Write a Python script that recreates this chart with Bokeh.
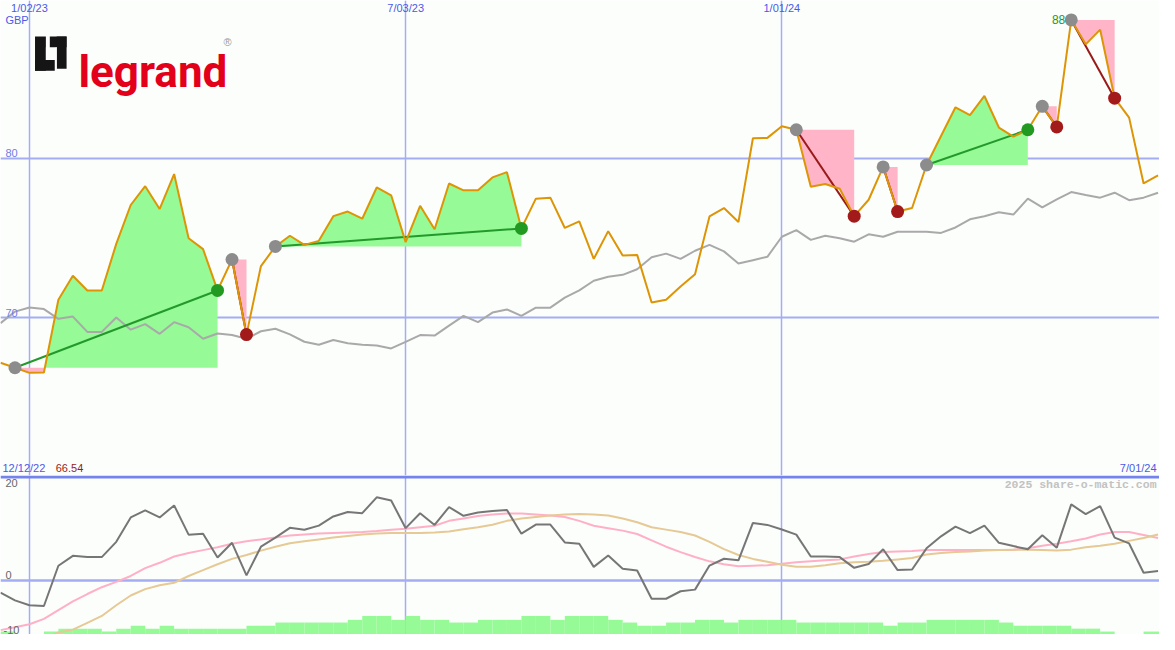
import numpy as np
import pandas as pd
from bokeh.plotting import figure
from bokeh.models import Range1d, FixedTicker, Span
from bokeh.layouts import column
from bokeh.embed import file_html
from bokeh.resources import INLINE
from bokeh.core.properties import value

# ---------------- data ----------------
first_week = "2022-12-19"
last_week = "2024-07-01"

price = [67.17, 66.86, 66.54, 66.56, 71.13, 72.63, 71.71, 71.71, 74.63, 77.07,
         78.25, 76.82, 79.01, 74.98, 74.30, 71.71, 73.65, 68.94, 73.24, 74.47,
         75.14, 74.57, 74.82, 76.37, 76.66, 76.21, 78.17, 77.68, 74.74, 77.02,
         75.55, 78.42, 77.99, 77.99, 78.80, 79.13, 75.60, 77.47, 77.53, 75.63,
         76.04, 73.69, 75.43, 73.90, 73.94, 70.95, 71.13, 71.95, 72.73, 76.35,
         76.88, 76.00, 81.26, 81.28, 82.01, 81.79, 78.21, 78.39, 78.09, 76.37,
         77.40, 79.46, 76.66, 76.88, 79.58, 81.40, 83.20, 82.71, 83.91, 81.93,
         81.36, 81.79, 83.26, 81.97, 88.68, 87.15, 88.07, 83.77, 82.55, 78.42,
         78.93]

index_line = [69.66, 70.38, 70.64, 70.54, 69.93, 70.07, 69.11, 69.11, 70.01, 69.25,
              69.60, 68.99, 69.72, 69.40, 68.68, 69.01, 68.91, 68.68, 69.15, 69.31,
              68.95, 68.49, 68.30, 68.60, 68.40, 68.30, 68.25, 68.07, 68.48, 68.91,
              68.88, 69.50, 70.11, 69.72, 70.32, 70.52, 70.11, 70.63, 70.63, 71.26,
              71.71, 72.32, 72.57, 72.69, 73.04, 73.79, 74.02, 73.69, 74.20, 74.57,
              74.16, 73.40, 73.61, 73.82, 75.08, 75.49, 74.88, 75.14, 74.98, 74.77,
              75.23, 75.08, 75.39, 75.39, 75.39, 75.32, 75.66, 76.17, 76.37, 76.61,
              76.47, 77.47, 76.92, 77.42, 77.88, 77.70, 77.53, 77.84, 77.37, 77.53,
              77.84]

momentum = [-2.4, -4.0, -5.0, -5.15, 3.1, 5.13, 4.87, 4.87, 8.0, 13.0,
            14.47, 13.0, 15.47, 9.47, 9.67, 4.8, 7.8, 1.13, 7.0, 8.87,
            10.87, 10.47, 11.33, 13.2, 14.13, 13.87, 17.13, 16.47, 10.8, 13.87,
            11.47, 15.13, 13.33, 14.0, 14.33, 14.53, 9.67, 11.53, 11.53, 7.87,
            7.6, 2.87, 5.2, 2.47, 2.13, -3.67, -3.67, -2.13, -1.8, 3.13,
            4.53, 4.2, 11.87, 11.47, 10.53, 9.47, 5.0, 5.0, 4.87, 2.67,
            3.47, 6.47, 2.2, 2.33, 6.67, 9.13, 11.13, 9.8, 11.33, 7.8,
            7.13, 6.47, 9.33, 6.8, 15.67, 13.67, 15.33, 8.87, 7.67, 1.67,
            2.0]

avg_fast = [-10.1, -9.5, -8.9, -7.8, -6.0, -4.2, -2.7, -1.3, -0.2, 1.0,
            2.6, 3.7, 5.0, 5.7, 6.3, 6.9, 7.6, 8.1, 8.5, 8.9,
            9.3, 9.5, 9.7, 9.8, 9.9, 10.0, 10.2, 10.5, 10.7, 11.0,
            11.3, 12.3, 12.8, 13.3, 13.6, 13.8, 13.8, 13.6, 13.4, 13.1,
            12.3, 11.3, 10.8, 10.3, 9.6, 8.3, 7.0, 5.9, 4.9, 4.0,
            3.4, 3.0, 3.1, 3.2, 3.5, 3.8, 4.0, 4.2, 4.4, 5.0,
            5.5, 5.9, 6.0, 6.1, 6.3, 6.3, 6.3, 6.3, 6.3, 6.3,
            6.4, 6.7, 7.2, 7.6, 8.1, 8.7, 9.5, 10.0, 10.0, 9.4,
            8.8]

avg_slow = [np.nan, np.nan, np.nan, -11.8, -10.6, -10.0, -8.6, -7.2, -5.0, -3.0,
            -1.7, -0.9, -0.4, 1.0, 2.2, 3.4, 4.5, 5.3, 6.2, 7.0,
            7.7, 8.1, 8.5, 8.9, 9.2, 9.5, 9.7, 9.8, 9.8, 9.8,
            9.9, 10.1, 10.6, 11.0, 11.5, 12.3, 12.8, 13.1, 13.4, 13.6,
            13.7, 13.6, 13.4, 12.8, 12.0, 11.0, 10.5, 10.0, 9.3, 8.0,
            6.5, 5.3, 4.5, 3.9, 3.3, 2.9, 2.9, 3.2, 3.6, 3.8,
            3.9, 4.1, 4.4, 4.7, 5.4, 5.7, 5.9, 6.0, 6.2, 6.3,
            6.4, 6.4, 6.3, 6.2, 6.4, 6.9, 7.2, 7.6, 8.2, 8.8,
            9.5]

volume_bar = [0.6, 0.0, 0.0, 0.6, 1.2, 1.2, 1.2, 0.6, 1.2, 1.8,
              1.2, 1.8, 1.2, 1.2, 1.2, 1.2, 1.2, 1.8, 1.8, 2.45,
              2.45, 2.45, 2.45, 2.45, 3.0, 3.8, 3.8, 3.0, 3.8, 3.0,
              3.0, 2.45, 2.45, 3.0, 3.0, 3.0, 3.8, 3.8, 3.0, 3.8,
              3.8, 3.8, 3.0, 2.45, 1.8, 1.8, 2.45, 2.45, 3.0, 3.0,
              2.45, 3.0, 3.0, 3.0, 3.0, 2.45, 2.45, 2.45, 2.45, 2.45,
              2.45, 1.8, 2.45, 2.45, 3.0, 3.0, 3.0, 3.0, 3.0, 2.45,
              1.8, 1.8, 1.8, 1.8, 1.2, 1.2, 0.6, 0.0, 0.0, 0.6,
              0.6]

# trend segments (week index of start and end)
seg_start = [1, 16, 19, 55, 61, 64, 72, 74]
seg_end = [15, 17, 36, 59, 62, 71, 73, 77]

date_ticks = ["2023-01-02", "2023-07-03", "2024-01-01"]
date_tick_labels = ["1/02/23", "7/03/23", "1/01/24"]
price_ticks = [70, 80]
price_tick_labels = ["70", "80"]
mom_grid = [0]
mom_ticks = [20, 0, -10]
mom_tick_labels = ["20", "0", "-10"]
currency = "GBP"
first_label = "12/12/22"
low_label = "66.54"
last_label = "7/01/24"
watermark = "2025 share-o-matic.com"

# ---------------- helpers ----------------
def to_ms(ts):
    return pd.DatetimeIndex(ts).values.astype("datetime64[ms]").astype("int64").astype(float)

dates = pd.date_range(first_week, periods=len(price), freq="7D")
xm = to_ms(dates)
week_ms = 7 * 86400000.0
price_a = np.array(price)

BG = "#fcfefc"
GRID = "#a4adf4"
BLUE_TXT = "#4a5ae8"
GREEN_FILL = "#96fa96"
PINK_FILL = "#ffb4c8"
FONT = value("Liberation Sans")

x_lo = xm[0]
x_hi = to_ms([last_week])[0] + 0.1 * week_ms
xr = Range1d(x_lo, x_hi)

W = 1159
H_TOP = 475
H_BOT = 159

# ---------------- top panel ----------------
p = figure(width=W, height=H_TOP, x_range=xr, y_range=Range1d(60.1, 89.9),
           x_axis_type="datetime", output_backend="svg", toolbar_location=None,
           min_border=0, background_fill_color=BG, border_fill_color=BG,
           outline_line_color=None)
p.extra_x_ranges = {"px": Range1d(0, 1175)}
p.extra_y_ranges = {"px": Range1d(487, 0)}
p.xaxis.visible = False
p.yaxis.visible = False
p.xgrid.ticker = FixedTicker(ticks=list(to_ms(date_ticks)))
p.xgrid.grid_line_color = GRID
p.xgrid.grid_line_width = 1.5
p.ygrid.ticker = FixedTicker(ticks=price_ticks)
p.ygrid.grid_line_color = GRID
p.ygrid.grid_line_width = 2

# fills between price and the level of each trend start
for s, e in zip(seg_start, seg_end):
    lvl = price[s]
    xs, ys = [xm[s]], [price[s]]
    for k in range(s, e):
        a, b = price[k] - lvl, price[k + 1] - lvl
        if a * b < 0:
            t = a / (a - b)
            xs.append(xm[k] + t * (xm[k + 1] - xm[k]))
            ys.append(lvl)
        xs.append(xm[k + 1])
        ys.append(price[k + 1])
    xs = np.array(xs)
    ys = np.array(ys)
    p.varea(x=xs, y1=np.full(len(xs), lvl), y2=np.maximum(ys, lvl), fill_color=GREEN_FILL)
    p.varea(x=xs, y1=np.minimum(ys, lvl), y2=np.full(len(xs), lvl), fill_color=PINK_FILL)

p.line(xm, index_line, line_color="#a9a9a9", line_width=2)

up = [price[e] >= price[s] for s, e in zip(seg_start, seg_end)]
p.segment(x0=xm[seg_start], y0=price_a[seg_start], x1=xm[seg_end], y1=price_a[seg_end],
          line_color=["#22992a" if u else "#9a1a1a" for u in up], line_width=2)

p.line(xm, price, line_color="#dd9505", line_width=2)

p.scatter(xm[seg_start], price_a[seg_start], size=13, fill_color="#8c8c8c", line_color=None)
p.scatter(xm[seg_end], price_a[seg_end], size=13,
          fill_color=["#229a22" if u else "#a31a1a" for u in up], line_color=None)

imax = int(np.argmax(price_a))
p.text(x=[xm[imax]], y=[price_a[imax]], text=[str(int(price_a[imax]))], x_offset=-6,
       text_align="right", text_baseline="middle", text_color="#229a22",
       text_font=FONT, text_font_size="12px")

# axis texts
p.text(x=list(to_ms(date_ticks)), y=[8] * 3, text=date_tick_labels, y_range_name="px",
       text_align="center", text_baseline="middle", text_color=BLUE_TXT,
       text_font=FONT, text_font_size="11px")
p.text(x=[5], y=[20], text=[currency], x_range_name="px", y_range_name="px",
       text_align="left", text_baseline="middle", text_color=BLUE_TXT,
       text_font=FONT, text_font_size="11px")
p.text(x=[x_lo] * 2, y=price_ticks, text=price_tick_labels, x_offset=5, y_offset=-1,
       text_align="left", text_baseline="bottom", text_color="#6f7ce8",
       text_font=FONT, text_font_size="11px")
p.text(x=[2], y=[479], text=[first_label], x_range_name="px", y_range_name="px",
       text_align="left", text_baseline="middle", text_color=BLUE_TXT,
       text_font=FONT, text_font_size="11px")
p.text(x=[56], y=[479], text=[low_label], x_range_name="px", y_range_name="px",
       text_align="left", text_baseline="middle", text_color="#9a1a1a",
       text_font=FONT, text_font_size="11px")
p.text(x=[1172], y=[479], text=[last_label], x_range_name="px", y_range_name="px",
       text_align="right", text_baseline="middle", text_color=BLUE_TXT,
       text_font=FONT, text_font_size="11px")

# logo
p.quad(left=[35, 35, 50, 57], right=[46, 55, 67, 67], top=[37, 61, 37, 37],
       bottom=[72, 72, 48, 70], x_range_name="px", y_range_name="px",
       fill_color="#151515", line_color=None)
p.quad(left=[46, 56], right=[48, 57], top=[48, 48], bottom=[61, 71],
       x_range_name="px", y_range_name="px", fill_color=BG, line_color=None)
p.text(x=[79], y=[73], text=["legrand"], x_range_name="px", y_range_name="px",
       text_align="left", text_baseline="alphabetic", text_color="#e3001b",
       text_font=value("Roboto"), text_font_style="bold",
       text_font_size="44px")
p.text(x=[226], y=[43], text=["\u00ae"], x_range_name="px", y_range_name="px",
       text_align="left", text_baseline="middle", text_color="#9a9a9a",
       text_font=FONT, text_font_size="11px")

# ---------------- bottom panel ----------------
q = figure(width=W, height=H_BOT, x_range=xr, y_range=Range1d(-11, 21.6),
           x_axis_type="datetime", output_backend="svg", toolbar_location=None,
           min_border=0, background_fill_color=BG, border_fill_color=BG,
           outline_line_color=None)
q.extra_x_ranges = {"px": Range1d(0, 1175)}
q.extra_y_ranges = {"px": Range1d(650, 487)}
q.xaxis.visible = False
q.yaxis.visible = False
q.xgrid.ticker = FixedTicker(ticks=list(to_ms(date_ticks)))
q.xgrid.grid_line_color = GRID
q.xgrid.grid_line_width = 1.5
q.ygrid.ticker = FixedTicker(ticks=mom_grid)
q.ygrid.grid_line_color = GRID
q.ygrid.grid_line_width = 2.5

q.quad(left=xm, right=xm + week_ms, bottom=np.full(len(xm), -11.0),
       top=-11.0 + np.array(volume_bar), fill_color=GREEN_FILL, line_color=None)
q.line(xm, avg_fast, line_color="#ffb0c6", line_width=2)
q.line(xm, avg_slow, line_color="#e6c994", line_width=2)
q.line(xm, momentum, line_color="#767676", line_width=2)

q.add_layout(Span(location=21.3, dimension="width", line_color="#7484ec", line_width=3))

q.text(x=[x_lo], y=[20], text=[mom_tick_labels[0]], x_offset=5,
       text_align="left", text_baseline="middle", text_color="#666666",
       text_font=FONT, text_font_size="11px")
q.text(x=[x_lo], y=[0], text=[mom_tick_labels[1]], x_offset=5, y_offset=-2,
       text_align="left", text_baseline="bottom", text_color="#666666",
       text_font=FONT, text_font_size="11px")
q.text(x=[x_lo], y=[-11], text=[mom_tick_labels[2]], x_offset=3, y_offset=-1,
       text_align="left", text_baseline="bottom", text_color="#666666",
       text_font=FONT, text_font_size="11px")
q.text(x=[1172], y=[496], text=[watermark], x_range_name="px", y_range_name="px",
       text_align="right", text_baseline="middle", text_color="#c2c2c2",
       text_font=value("Liberation Mono"), text_font_style="bold", text_font_size="11.5px")

layout = column(p, q, spacing=0)
open("out.html", "w").write(file_html(layout, INLINE))
